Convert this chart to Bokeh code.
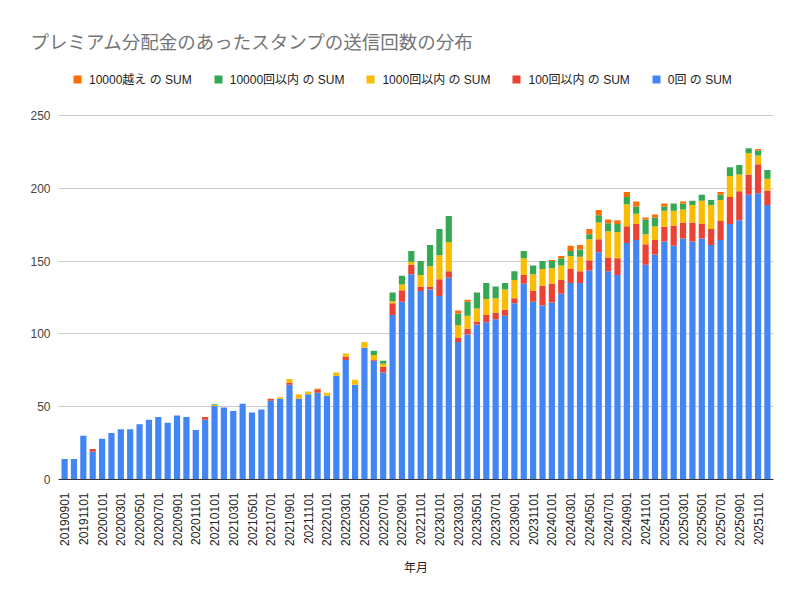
import math
from bokeh.plotting import figure
from bokeh.models import ColumnDataSource, Range1d, FixedTicker, Legend, LegendItem, NumeralTickFormatter
from bokeh.embed import file_html
from bokeh.resources import INLINE

months = [f"{y}{m:02d}01" for y in range(2019, 2026) for m in range(1, 13)]
months = months[8:]  # 20190901 .. 20251201

zero = [14, 14, 30, 19, 28, 32, 34.5, 34.5, 38, 41, 43, 39, 44, 43, 34, 41,
        50.5, 49.5, 47, 52, 46, 48, 54, 55.5, 65, 55.5, 58.5, 59.5, 57.5, 71,
        82, 65, 90.5, 81.5, 73.5, 113, 122, 141, 129.5, 130.5, 126, 138.5,
        94.5, 99.5, 106.5, 108, 110, 112.5, 121, 134.5, 122, 119.5, 121.5, 127.5,
        135, 135, 143.5, 156, 143, 140.5, 162.5, 164.5, 147.5, 154.5, 163.5, 160.5,
        165.5, 163.5, 165.5, 161, 164.5, 175.5, 178, 195.5, 196.5, 188.5]
le100 = [0, 0, 0, 2, 0, 0, 0, 0, 0, 0, 0, 0, 0, 0, 0, 2,
         0, 0, 0, 0, 0, 0, 1.5, 0, 1.5, 0, 0, 2.5, 0, 0,
         2.5, 0, 0, 0.5, 4, 8, 8, 6.5, 3, 2, 11.5, 4.5,
         3, 4, 2, 5, 4.5, 4, 3.5, 6, 7.5, 13.5, 13, 9.5,
         9.5, 8, 7, 9, 9.5, 11.5, 11.5, 11, 14, 10, 10, 14,
         11, 13, 10, 11, 13, 18.5, 20, 14, 20, 10]
le1000 = [0, 0, 0, 0, 0, 0, 0, 0, 0, 0, 0, 0, 0, 0, 0, 0,
          0.6, 0, 0, 0, 0, 0, 0, 1, 2.5, 3, 2, 0.5, 2, 2.5,
          2, 3.5, 4, 3.5, 2, 1.5, 4, 2, 8, 14, 16.5, 20,
          8.5, 9, 9, 11, 10, 14, 12.5, 11.5, 11.5, 11.5, 10.5, 10,
          9, 10, 14.5, 11.5, 18, 18, 15, 7, 7, 9.5, 11, 10,
          9, 12, 16, 16.5, 14.5, 14.5, 11.5, 14.5, 6, 8]
le10000 = [0, 0, 0, 0, 0, 0, 0, 0, 0, 0, 0, 0, 0, 0, 0, 0,
           0.5, 0, 0, 0, 0, 0, 0, 0, 0, 0, 0, 0, 0, 0,
           0, 0, 0, 3, 2, 6, 6, 7.5, 9.5, 14.5, 18, 18,
           8, 9.5, 11, 11, 8, 4.5, 6, 5, 6, 5.5, 5, 5,
           3.5, 5, 3.5, 5, 5.5, 5.5, 5, 5, 10, 6, 3, 5,
           4, 3, 4, 3.5, 3.5, 6, 6.5, 3.5, 3.5, 6]
over10000 = [0] * 42 + [2, 1.5, 0, 0, 0, 0, 0, 0, 0, 0, 0.7, 1.5,
                        3.5, 3, 3.5, 3.5, 2.5, 2.5, 3.5, 3.5, 1.5, 2, 2, 0,
                        1.5, 0, 0, 0, 2, 0, 0, 0, 1, 0]
y_ticks = [0, 50, 100, 150, 200, 250]

series_keys = ["zero", "le100", "le1000", "le10000", "over10000"]
series_names = ["0回 の SUM", "100回以内 の SUM", "1000回以内 の SUM", "10000回以内 の SUM", "10000越え の SUM"]
colors = ["#4285F4", "#EA4335", "#FBBC04", "#34A853", "#FF6D01"]

source = ColumnDataSource(dict(
    x=list(range(len(months))), zero=zero, le100=le100, le1000=le1000,
    le10000=le10000, over10000=over10000))

FONT = "Liberation Sans, 'Noto Sans CJK JP'"

p = figure(width=796, height=596, output_backend="svg", toolbar_location=None,
           x_range=Range1d(-0.65, len(months) - 1 + 0.65), y_range=Range1d(0, 290.5),
           min_border_left=58, min_border_right=23, min_border_bottom=117, min_border_top=56)
p.outline_line_color = None
p.background_fill_color = "white"
p.border_fill_color = "white"

renderers = p.vbar_stack(series_keys, x="x", width=0.66, color=colors, source=source, line_color=None)

legend = Legend(items=[LegendItem(label=n, renderers=[r]) for n, r in zip(series_names[::-1], renderers[::-1])],
                orientation="horizontal", location="top_left", border_line_color=None,
                background_fill_alpha=0, label_text_font=FONT, label_text_font_size="12px",
                label_text_color="#222222", glyph_width=10, glyph_height=10, label_height=14,
                spacing=21, padding=6, margin=14, label_standoff=7)
p.add_layout(legend)

p.title.text = "プレミアム分配金のあったスタンプの送信回数の分布"
p.title.text_font = "'Noto Sans CJK JP'"
p.title.text_font_size = "18.5px"
p.title.text_font_style = "normal"
p.title.text_color = "#757575"
p.title.offset = -28
p.title.standoff = 5

ticks = list(range(0, len(months), 2))
p.xaxis.ticker = FixedTicker(ticks=ticks)
p.xaxis.major_label_overrides = {i: months[i] for i in ticks}
p.xaxis.major_label_orientation = math.pi / 2
p.xaxis.major_label_text_font = FONT
p.xaxis.major_label_text_font_size = "12px"
p.xaxis.major_label_text_color = "#222222"
p.xaxis.major_label_standoff = 7
p.xaxis.major_tick_line_color = None
p.xaxis.minor_tick_line_color = None
p.xaxis.axis_line_color = "#333333"
p.xaxis.axis_line_width = 1.2
p.xaxis.axis_label = "年月"
p.xaxis.axis_label_text_font = "'Noto Sans CJK JP'"
p.xaxis.axis_label_text_font_size = "12px"
p.xaxis.axis_label_text_font_style = "normal"
p.xaxis.axis_label_text_color = "#222222"
p.xaxis.axis_label_standoff = 9

p.yaxis.ticker = FixedTicker(ticks=y_ticks)
p.yaxis.formatter = NumeralTickFormatter(format="0")
p.yaxis.axis_line_color = None
p.yaxis.major_tick_line_color = None
p.yaxis.minor_tick_line_color = None
p.yaxis.major_label_text_font = FONT
p.yaxis.major_label_text_font_size = "12px"
p.yaxis.major_label_text_color = "#444444"
p.yaxis.major_label_standoff = 2

p.xgrid.grid_line_color = None
p.ygrid.grid_line_color = "#cccccc"
p.ygrid.ticker = FixedTicker(ticks=y_ticks[1:])

open("out.html", "w").write(file_html(p, INLINE))
